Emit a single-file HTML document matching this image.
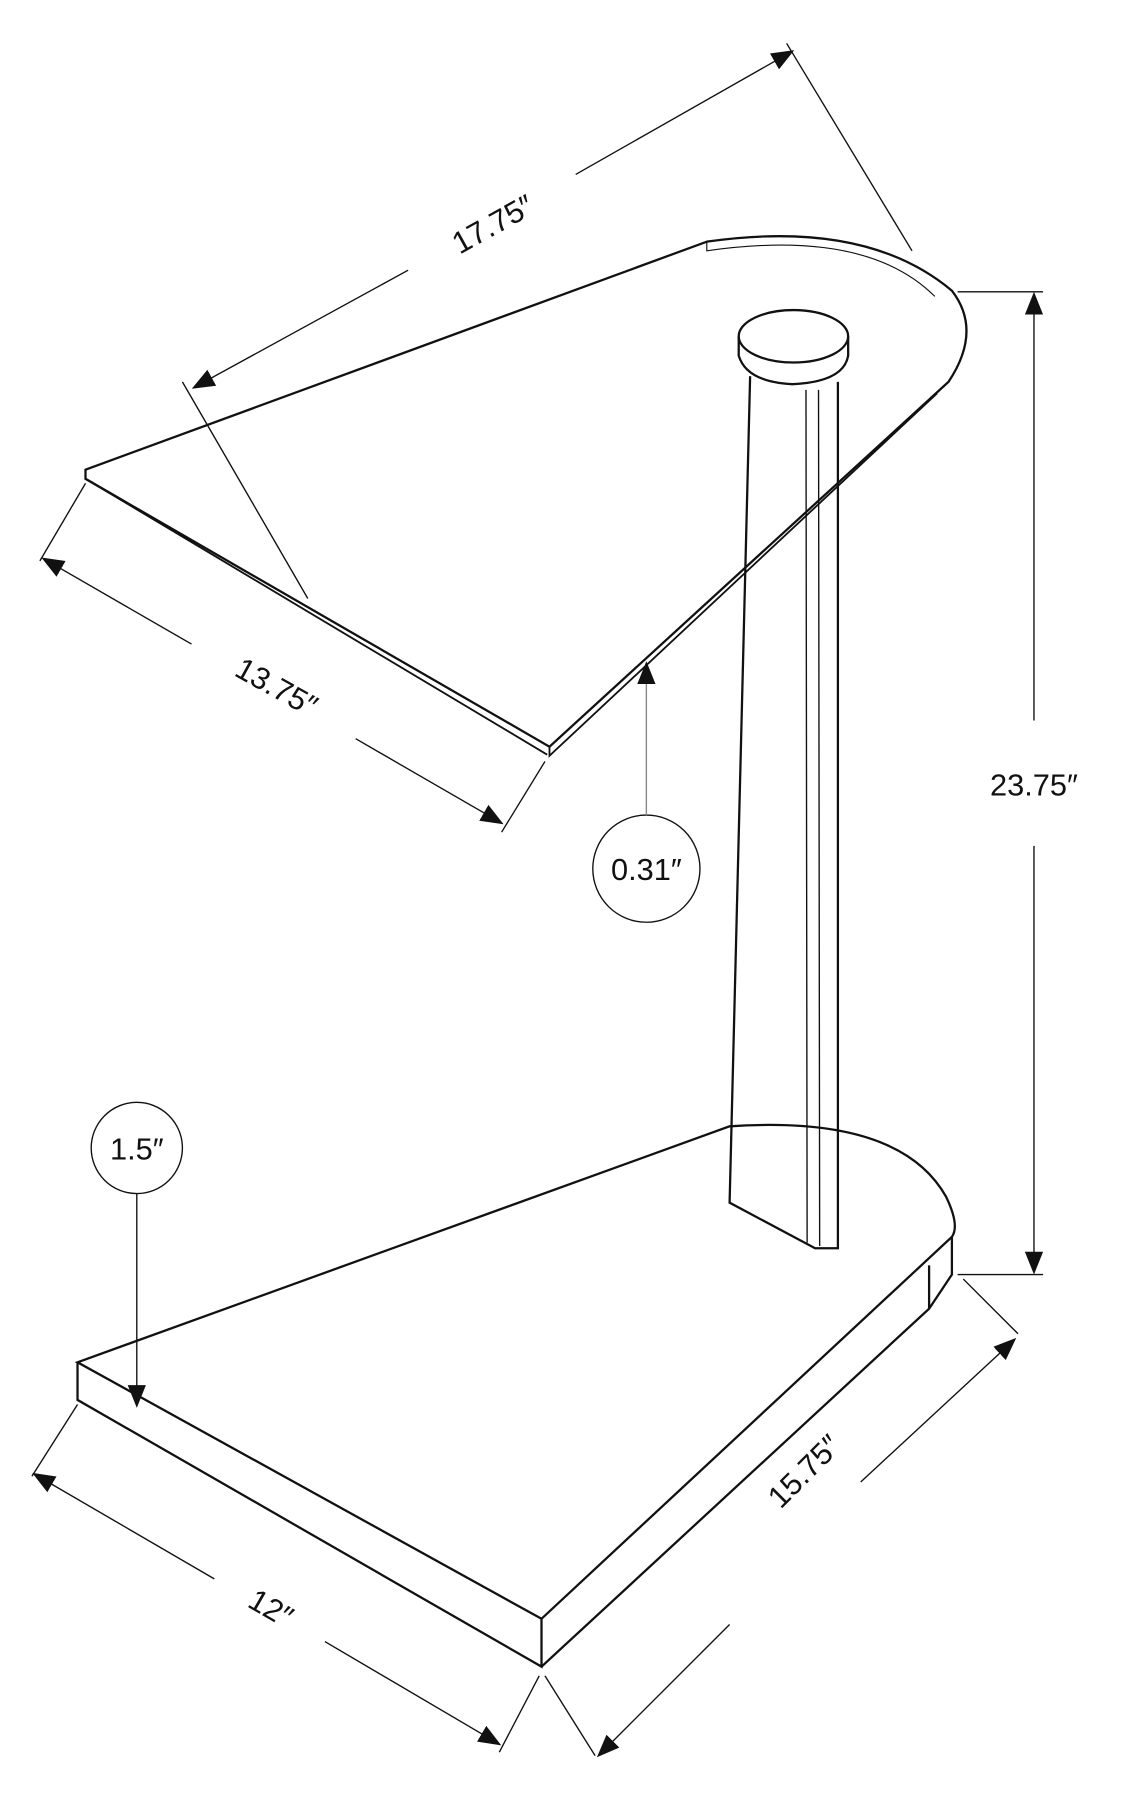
<!DOCTYPE html>
<html><head><meta charset="utf-8"><style>
html,body{margin:0;padding:0;background:#fff;}
svg{display:block;}
text{font-family:"Liberation Sans",sans-serif;font-size:27px;fill:#111;}
</style></head><body>
<svg width="1140" height="1816" viewBox="0 0 1000 1593" preserveAspectRatio="none" xmlns="http://www.w3.org/2000/svg">
<defs>
<marker id="ar" viewBox="0 0 10 10" refX="9" refY="5" markerWidth="9" markerHeight="9" orient="auto-start-reverse" markerUnits="userSpaceOnUse">
<path d="M0,1 L10,5 L0,9 Z" fill="#111"/></marker>
<marker id="ar2" viewBox="0 0 10 10" refX="9" refY="5" markerWidth="20" markerHeight="20" orient="auto-start-reverse" markerUnits="userSpaceOnUse">
<path d="M0,1 L10,5 L0,9 Z" fill="#111"/></marker>
</defs>
<g fill="none" stroke="#111" stroke-width="1.6">
<!-- top glass -->
<path d="M75,412 L620,212 Q760,192 835,255 Q862,290 832,335 L482,655 L75,420 Z" stroke-width="2"/>
<path d="M75,420 L75,412 M482,655 L482,663 L822,345 M75,420 L480,662" />
<path d="M620,212 L620,220 Q760,200 820,260" stroke-width="1"/>
<!-- pillar -->
<path d="M658,330 L640,1055 L715,1095 L735,1095 L735,335" stroke-width="2"/>
<path d="M707,342 L708,1090 M718,342 L719,1093" stroke-width="1.2"/>
<path d="M648,295 L648,312 Q655,335 695,337 Q740,335 744,312 L744,295" stroke-width="2"/>
<ellipse cx="696" cy="295" rx="48" ry="23" stroke-width="2"/>
<!-- base -->
<path d="M68,1195 L640,988 Q790,978 830,1050 Q842,1075 835,1085 L475,1420 L68,1195 Z" stroke-width="2"/>
<path d="M68,1195 L68,1228 L475,1462 L475,1420 M475,1462 L815,1148 L835,1118 L835,1085 M815,1148 L815,1110" stroke-width="2"/>
</g>
<g fill="none" stroke="#111" stroke-width="1.2">
<!-- 17.75 -->
<line x1="170" y1="340" x2="358" y2="237" marker-start="url(#ar2)"/>
<line x1="505" y1="153" x2="695" y2="45" marker-end="url(#ar2)"/>
<line x1="160" y1="335" x2="270" y2="525"/>
<line x1="690" y1="38" x2="800" y2="220"/>
<!-- 13.75 -->
<line x1="38" y1="490" x2="168" y2="565" marker-start="url(#ar2)"/>
<line x1="312" y1="648" x2="440" y2="722" marker-end="url(#ar2)"/>
<line x1="35" y1="492" x2="75" y2="424"/>
<line x1="440" y1="730" x2="478" y2="668"/>
<!-- 23.75 -->
<line x1="907" y1="258" x2="907" y2="632" marker-start="url(#ar2)"/>
<line x1="907" y1="742" x2="907" y2="1116" marker-end="url(#ar2)"/>
<line x1="840" y1="256" x2="915" y2="256"/>
<line x1="840" y1="1118" x2="915" y2="1118"/>
<!-- 0.31 -->
<circle cx="567" cy="762" r="47"/>
<line x1="567" y1="715" x2="567" y2="582" stroke="#888" marker-end="url(#ar2)"/>
<!-- 1.5 -->
<circle cx="120" cy="1007" r="40"/>
<line x1="120" y1="1047" x2="120" y2="1233" marker-end="url(#ar2)"/>
<!-- 12 -->
<line x1="30" y1="1293" x2="188" y2="1385" marker-start="url(#ar2)"/>
<line x1="285" y1="1440" x2="438" y2="1530" marker-end="url(#ar2)"/>
<line x1="28" y1="1295" x2="68" y2="1232"/>
<line x1="438" y1="1537" x2="473" y2="1470"/>
<!-- 15.75 -->
<line x1="525" y1="1540" x2="640" y2="1425" marker-start="url(#ar2)"/>
<line x1="755" y1="1300" x2="890" y2="1175" marker-end="url(#ar2)"/>
<line x1="478" y1="1470" x2="522" y2="1540"/>
<line x1="845" y1="1122" x2="893" y2="1170"/>
</g>
<g text-anchor="middle">
<text x="432" y="206" transform="rotate(-29 432 196)">17.75″</text>
<text x="243" y="612" transform="rotate(29 243 602)">13.75″</text>
<text x="907" y="698">23.75″</text>
<text x="567" y="772" font-size="25">0.31″</text>
<text x="120" y="1017" font-size="25">1.5″</text>
<text x="238" y="1420" transform="rotate(30 238 1410)">12″</text>
<text x="705" y="1300" transform="rotate(-45 705 1290)">15.75″</text>
</g>
</svg>
</body></html>
